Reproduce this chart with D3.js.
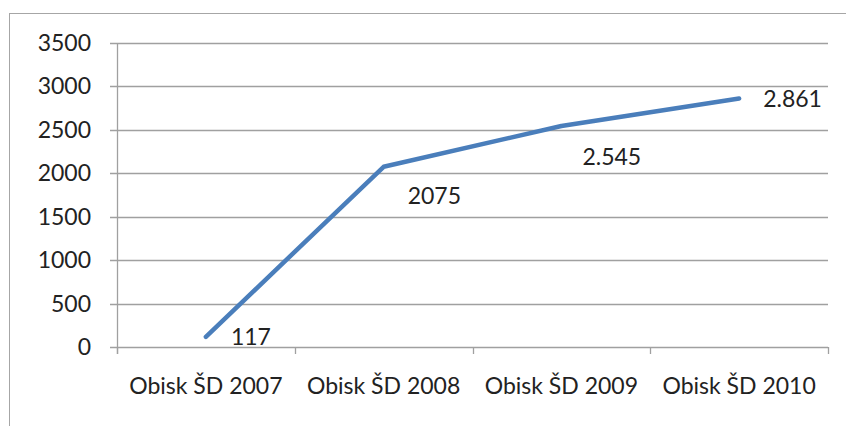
<!DOCTYPE html>
<html><head><meta charset="utf-8">
<script src="https://cdn.jsdelivr.net/npm/d3@7"></script>
<style>html,body{margin:0;padding:0;background:#fff;}svg{display:block;}</style>
</head><body>
<svg id="c" width="846" height="426"></svg>
<script>
const categories = ["Obisk ŠD 2007", "Obisk ŠD 2008", "Obisk ŠD 2009", "Obisk ŠD 2010"];
const values = [117, 2075, 2545, 2861];
const valueLabels = ["117", "2075", "2.545", "2.861"];
const yTicks = [0, 500, 1000, 1500, 2000, 2500, 3000, 3500];
// label placement offsets (layout, px)
const labelOffsets = [[25, 0], [24, 29], [21, 31], [24, 0]];

const svg = d3.select("#c");
const font = "Lato, 'Noto Sans', sans-serif";
const fs = 23;
const M = {left: 117, right: 828, top: 43, bottom: 347};

svg.append("rect").attr("x", 9.5).attr("y", 13.5).attr("width", 900).attr("height", 500)
  .attr("fill", "none").attr("stroke", "#a6a6a6").attr("stroke-width", 1);

const x = d3.scaleBand().domain(categories).range([M.left, M.right]).padding(0);
const y = d3.scaleLinear().domain([0, 3500]).range([M.bottom, M.top]);

svg.append("g").selectAll("line").data(yTicks).join("line")
  .attr("x1", M.left - 7).attr("x2", M.right)
  .attr("y1", d => Math.round(y(d)) + 0.5).attr("y2", d => Math.round(y(d)) + 0.5)
  .attr("stroke", "#a0a0a0").attr("stroke-width", 1.3);

svg.append("line").attr("x1", M.left + 0.5).attr("x2", M.left + 0.5)
  .attr("y1", M.top).attr("y2", M.bottom + 7)
  .attr("stroke", "#a0a0a0").attr("stroke-width", 1.3);

const bounds = categories.map(c => x(c)).concat([x(categories[categories.length-1]) + x.bandwidth()]);
svg.append("g").selectAll("line").data(bounds).join("line")
  .attr("x1", d => Math.round(d) + 0.5).attr("x2", d => Math.round(d) + 0.5)
  .attr("y1", M.bottom).attr("y2", M.bottom + 7)
  .attr("stroke", "#a0a0a0").attr("stroke-width", 1.3);

svg.append("g").selectAll("text").data(yTicks).join("text")
  .attr("x", 91).attr("y", d => y(d)).attr("dy", "0.35em")
  .attr("text-anchor", "end").attr("font-family", font).attr("font-size", fs)
  .attr("fill", "#222").text(d => d);

svg.append("g").selectAll("text").data(categories).join("text")
  .attr("x", d => x(d) + x.bandwidth()/2).attr("y", 386).attr("dy", "0.35em")
  .attr("text-anchor", "middle").attr("font-family", font).attr("font-size", fs)
  .attr("fill", "#222").text(d => d);

const pts = categories.map((c, i) => [x(c) + x.bandwidth()/2, y(values[i])]);
svg.append("path").attr("d", d3.line()(pts))
  .attr("fill", "none").attr("stroke", "#4a7ebb").attr("stroke-width", 4.5)
  .attr("stroke-linecap", "round").attr("stroke-linejoin", "round");

svg.append("g").selectAll("text").data(valueLabels).join("text")
  .attr("x", (d, i) => pts[i][0] + labelOffsets[i][0])
  .attr("y", (d, i) => pts[i][1] + labelOffsets[i][1]).attr("dy", "0.35em")
  .attr("font-family", font).attr("font-size", fs).attr("fill", "#222").text(d => d);
</script>
</body></html>
